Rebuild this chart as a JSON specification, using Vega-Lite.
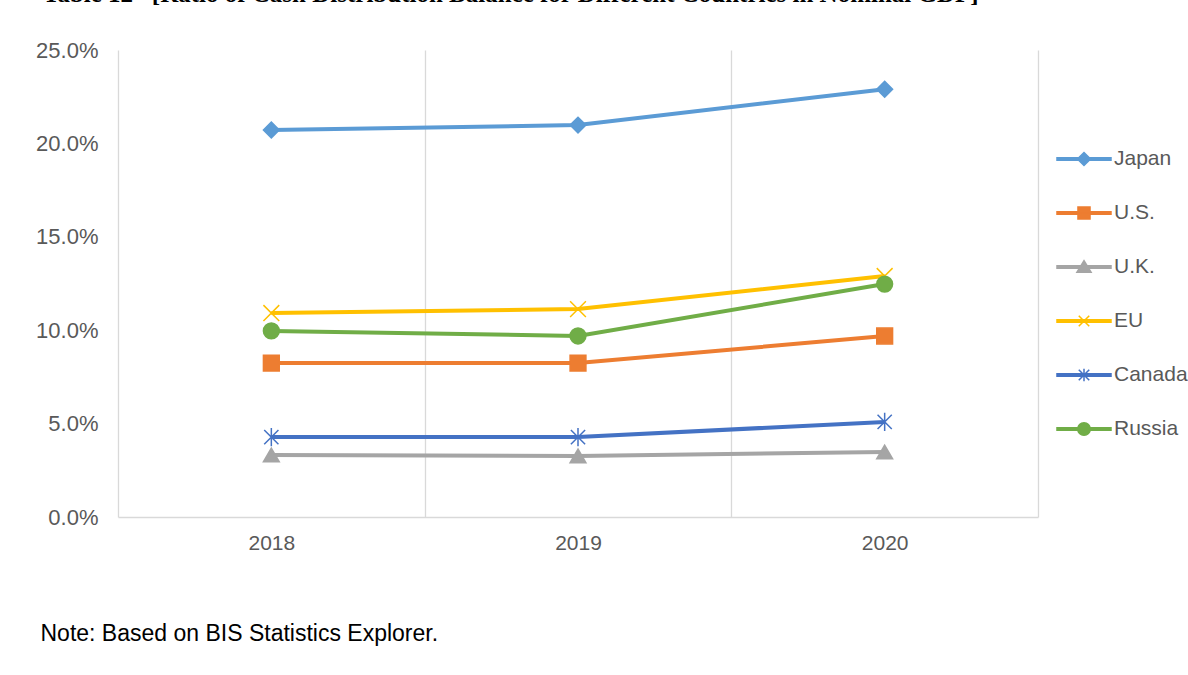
{
  "$schema": "https://vega.github.io/schema/vega-lite/v6.json",
  "width": 920,
  "height": 467,
  "autosize": {"type": "none"},
  "padding": {"left": 118, "top": 50, "right": 150, "bottom": 158},
  "background": "white",
  "config": {
    "view": {"stroke": null},
    "font": "Liberation Sans"
  },
  "title": {
    "text": "Table 12\u2002 [Ratio of Cash Distribution Balance for Different Countries in Nominal GDP]",
    "font": "Liberation Serif",
    "fontWeight": "bold",
    "fontSize": 25,
    "color": "#000000",
    "anchor": "start",
    "frame": "group",
    "dx": -75,
    "dy": 8,
    "baseline": "alphabetic",
    "offset": 20
  },
  "data": {
    "values": [
      {"country": "Japan", "year": "2018", "value": 0.2072},
      {"country": "Japan", "year": "2019", "value": 0.2098},
      {"country": "Japan", "year": "2020", "value": 0.2290},
      {"country": "U.S.", "year": "2018", "value": 0.0824},
      {"country": "U.S.", "year": "2019", "value": 0.0824},
      {"country": "U.S.", "year": "2020", "value": 0.0969},
      {"country": "U.K.", "year": "2018", "value": 0.0332},
      {"country": "U.K.", "year": "2019", "value": 0.0327},
      {"country": "U.K.", "year": "2020", "value": 0.0348},
      {"country": "EU", "year": "2018", "value": 0.1092},
      {"country": "EU", "year": "2019", "value": 0.1113},
      {"country": "EU", "year": "2020", "value": 0.1290},
      {"country": "Canada", "year": "2018", "value": 0.0428},
      {"country": "Canada", "year": "2019", "value": 0.0428},
      {"country": "Canada", "year": "2020", "value": 0.0509},
      {"country": "Russia", "year": "2018", "value": 0.0996},
      {"country": "Russia", "year": "2019", "value": 0.0969},
      {"country": "Russia", "year": "2020", "value": 0.1247}
    ]
  },
  "encoding": {
    "x": {
      "field": "year",
      "type": "nominal",
      "scale": {"type": "band", "paddingInner": 0, "paddingOuter": 0},
      "axis": {
        "title": "Note: Based on BIS Statistics Explorer.",
        "titleX": -78,
        "titleY": 116,
        "titleAlign": "left",
        "titleBaseline": "middle",
        "titleFont": "Liberation Sans",
        "titleFontSize": 23,
        "titleFontWeight": "normal",
        "titleColor": "#000000",
        "labelAngle": 0,
        "labelFontSize": 21,
        "labelColor": "#595959",
        "labelPadding": 15,
        "ticks": false,
        "grid": true,
        "tickBand": "extent",
        "gridColor": "#D9D9D9",
        "gridWidth": 1.3,
        "domainColor": "#D9D9D9",
        "domainWidth": 1.3
      }
    },
    "y": {
      "field": "value",
      "type": "quantitative",
      "scale": {"domain": [0, 0.25], "nice": false},
      "axis": {
        "title": null,
        "values": [0, 0.05, 0.1, 0.15, 0.2, 0.25],
        "format": ".1%",
        "labelFontSize": 22,
        "labelColor": "#595959",
        "labelPadding": 20,
        "ticks": false,
        "domain": false,
        "grid": false
      }
    }
  },
  "layer": [
    {
      "mark": {"type": "line", "strokeWidth": 4},
      "encoding": {
        "color": {
          "field": "country",
          "type": "nominal",
          "scale": {
            "domain": ["Japan", "U.S.", "U.K.", "EU", "Canada", "Russia"],
            "range": ["#5B9BD5", "#ED7D31", "#A5A5A5", "#FFC000", "#4472C4", "#70AD47"]
          },
          "legend": {
            "title": null,
            "orient": "none",
            "legendX": 939,
            "legendY": 82,
            "padding": 0,
            "rowPadding": 17,
            "symbolSize": 2750,
            "symbolStrokeWidth": 1.5,
            "labelFont": "Liberation Sans",
            "labelFontSize": 21,
            "labelColor": "#595959",
            "labelOffset": 3,
            "labelLimit": 300,
            "encode": {
              "symbols": {
                "update": {
                  "shape": {"signal": "(datum.value == 'Japan' ? 'M0,-0.25L0.25,0L0,0.25L-0.25,0Z' : datum.value == 'U.S.' ? 'M-0.23,-0.23H0.23V0.23H-0.23Z' : datum.value == 'U.K.' ? 'M0,-0.24L0.27,0.2H-0.27Z' : datum.value == 'EU' ? 'M-0.2,-0.2L0.2,0.2M-0.2,0.2L0.2,-0.2' : datum.value == 'Canada' ? 'M-0.2,-0.2L0.2,0.2M-0.2,0.2L0.2,-0.2M0,-0.24V0.24' : 'M-0.24,0A0.24,0.24 0 1,1 0.24,0A0.24,0.24 0 1,1 -0.24,0Z') + 'M-1.03,-0.045H1.03V0.045H-1.03Z'"},
                  "fill": {"signal": "scale('color', datum.value)"},
                  "stroke": {"signal": "scale('color', datum.value)"}
                }
              }
            }
          }
        }
      }
    },
    {
      "mark": {"type": "point", "size": 250, "strokeWidth": 1.5, "opacity": 1, "fillOpacity": 1},
      "encoding": {
        "fill": {
          "field": "country",
          "type": "nominal",
          "scale": {
            "range": ["#4472C4", "#FFC000", "#5B9BD5", "#70AD47", "#A5A5A5", "#ED7D31"]
          },
          "legend": null
        },
        "stroke": {
          "field": "country",
          "type": "nominal",
          "scale": {
            "range": ["#4472C4", "#FFC000", "#5B9BD5", "#70AD47", "#A5A5A5", "#ED7D31"]
          },
          "legend": null
        },
        "shape": {
          "field": "country",
          "type": "nominal",
          "scale": {
            "range": ["M-0.9,-0.9L0.9,0.9M-0.9,0.9L0.9,-0.9M0,-1.15V1.15", "M-1,-1L1,1M-1,1L1,-1", "diamond", "circle", "triangle-up", "square"]
          },
          "legend": null
        }
      }
    }
  ]
}
